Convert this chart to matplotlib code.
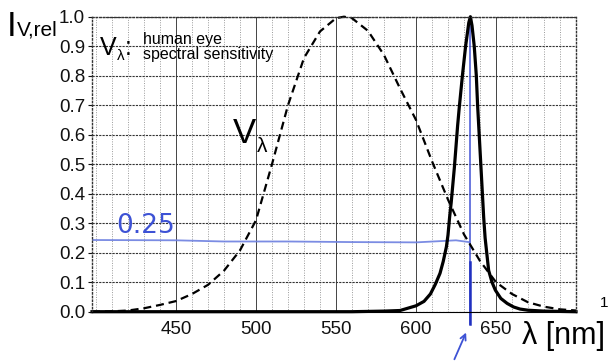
import numpy as np
import matplotlib.pyplot as plt

plt.rcParams['font.family'] = ['Liberation Sans', 'DejaVu Sans']

# V-lambda: human eye spectral sensitivity (dashed)
v_nm = [397.5, 400, 410, 420, 430, 440, 450, 460, 470, 480, 490, 500, 510,
        520, 530, 540, 550, 555, 560, 570, 580, 590, 600, 610, 620, 630,
        640, 650, 660, 670, 680, 690, 700]
v_rel = [0.0, 0.0004, 0.0012, 0.004, 0.0116, 0.023, 0.036, 0.06, 0.091,
         0.139, 0.208, 0.31, 0.50, 0.70, 0.86, 0.95, 0.995, 1.0, 0.995,
         0.952, 0.87, 0.757, 0.65, 0.51, 0.38, 0.262, 0.172, 0.10, 0.06,
         0.032, 0.017, 0.008, 0.004]

# narrow red source spectrum (solid)
src_nm = [397.5, 560, 580, 590, 600, 605, 609, 612, 615, 617, 619, 620, 621,
          622, 623, 624, 625, 626, 627, 629, 631, 633, 634, 635, 636.4, 637.7,
          638.5, 639.6, 640.6, 641.5, 642.3, 643.2, 645.4, 647.5, 649.6, 653,
          657, 661, 665, 670, 680, 700]
src_rel = [0, 0, 0.002, 0.004, 0.02, 0.035, 0.06, 0.092, 0.13, 0.17, 0.22,
           0.26, 0.32, 0.37, 0.43, 0.49, 0.56, 0.63, 0.69, 0.80, 0.90, 0.98,
           1.0, 0.97, 0.90, 0.80, 0.70, 0.59, 0.49, 0.40, 0.32, 0.25, 0.14,
           0.10, 0.073, 0.045, 0.028, 0.016, 0.009, 0.005, 0.002, 0]

# handwritten blue marks
pen_nm = [397.5, 450, 480, 520, 560, 600, 625, 633]
pen_rel = [0.243, 0.242, 0.238, 0.238, 0.236, 0.235, 0.242, 0.236]
peak_nm = 633.5

x_ticks = [450, 500, 550, 600, 650]
y_ticks = [0.0, 0.1, 0.2, 0.3, 0.4, 0.5, 0.6, 0.7, 0.8, 0.9, 1.0]

blue = '#3d52d5'

fig = plt.figure(figsize=(6.08, 3.61), dpi=100)
ax = fig.add_axes([92 / 608, 49.3 / 361, 484 / 608, 295 / 361])

ax.set_xlim(397.5, 700)
ax.set_ylim(0, 1.0)
ax.set_xticks(x_ticks)
ax.set_xticks(np.arange(400, 701, 10), minor=True)
ax.set_yticks(y_ticks)
ax.set_yticklabels(['%.1f' % v for v in y_ticks])
ax.tick_params(axis='both', labelsize=13.5, colors='#111111')
ax.tick_params(axis='x', length=0, pad=7)
ax.tick_params(axis='y', length=3, width=0.8, pad=2, direction='out')
ax.tick_params(which='minor', length=0)

ax.grid(True, which='major', axis='x', color='#444444', lw=0.7)
ax.grid(True, which='major', axis='y', color='#333333', lw=0.8, linestyle=(0, (2, 1)))
ax.grid(True, which='minor', axis='x', color='#9a9a9a', lw=0.7, linestyle=(0, (1, 1.5)))
ax.set_axisbelow(True)

for side in ['left', 'top', 'right']:
    ax.spines[side].set_linestyle(':')
    ax.spines[side].set_color('#333333')
    ax.spines[side].set_linewidth(1.0)
ax.spines['bottom'].set_color('black')

ax.plot(pen_nm, pen_rel, color='#6d80e0', lw=1.3, alpha=0.9)
ax.plot([peak_nm, peak_nm], [1.0, -0.04], color='#5060d8', lw=1.2, clip_on=False)
ax.plot([peak_nm, peak_nm], [0.17, -0.04], color='#2030c0', lw=1.8, clip_on=False)
ax.annotate('', xy=(632, -0.062), xytext=(623.3, -0.17), xycoords='data',
            arrowprops=dict(arrowstyle='->', color=blue, lw=1.3), annotation_clip=False)

ax.plot(v_nm, v_rel, color='black', lw=1.6, linestyle=(0, (3.6, 2.2)), clip_on=False)
ax.plot(src_nm, src_rel, color='black', lw=2.3, clip_on=False)

ax.text(431, 0.266, '0.25', color=blue, fontsize=19, family='DejaVu Sans',
        ha='center', va='baseline')

# labels
fig.text(7 / 608, 1 - 36 / 361, 'I', fontsize=25, va='baseline')
fig.text(17 / 608, 1 - 36 / 361, 'V,rel', fontsize=15, va='baseline')
fig.text(100 / 608, 1 - 55 / 361, 'V', fontsize=18, va='baseline')
fig.text(117 / 608, 1 - 60 / 361, 'λ', fontsize=11, va='baseline')
fig.text(125 / 608, 1 - 55 / 361, ':', fontsize=18, va='baseline')
fig.text(143 / 608, 1 - 44 / 361, 'human eye', fontsize=11.5, va='baseline')
fig.text(143 / 608, 1 - 59 / 361, 'spectral sensitivity', fontsize=11.5, va='baseline')
fig.text(233 / 608, 1 - 143 / 361, 'V', fontsize=25, va='baseline')
fig.text(257 / 608, 1 - 152 / 361, 'λ', fontsize=15, va='baseline')
fig.text(522 / 608, 1 - 344 / 361, 'λ [nm]', fontsize=22, va='baseline')
fig.text(600 / 608, 1 - 307 / 361, '1', fontsize=11, va='baseline')

fig.savefig('out.png', dpi=100)
